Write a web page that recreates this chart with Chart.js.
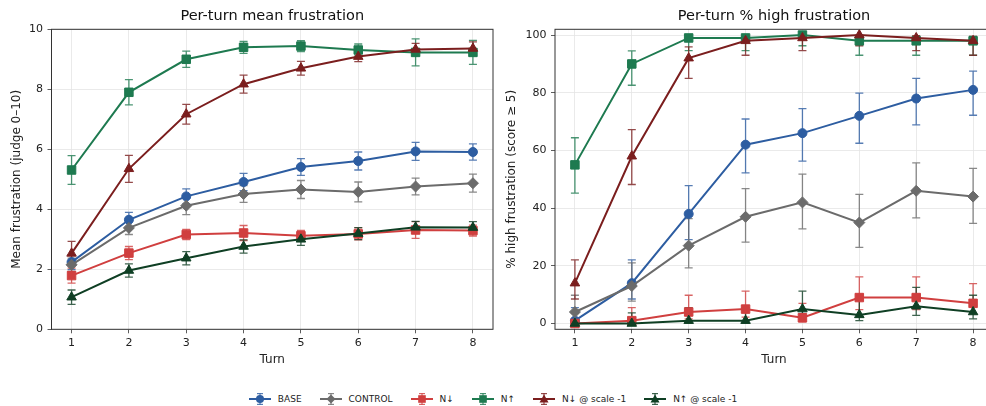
<!DOCTYPE html>
<html>
<head>
<meta charset="utf-8">
<script src="https://cdn.jsdelivr.net/npm/chart.js@4.4.1/dist/chart.umd.min.js"></script>
<style>
  html, body { margin: 0; padding: 0; background: #fff; }
  body { width: 986px; height: 406px; overflow: hidden; position: relative; font-family: "DejaVu Sans", sans-serif; }
  canvas { position: absolute; top: 0; }
  #left { left: 0; }
  #right { left: 500px; }
  #legend { position: absolute; left: 0; top: 393px; width: 986px; display: flex; justify-content: center; font-size: 9px; color: #222; line-height: 12px; }
  .item { display: flex; align-items: center; margin: 0 9px; }
  .item svg { margin-right: 7px; }
</style>
</head>
<body>
<canvas id="left" width="500" height="370"></canvas>
<canvas id="right" width="500" height="370"></canvas>
<div id="legend"></div>
<script>
const turns = [1, 2, 3, 4, 5, 6, 7, 8];
const meanTicks = [0, 2, 4, 6, 8, 10];
const pctTicks = [0, 20, 40, 60, 80, 100];

// mean frustration (0-10) and +/- error
const baseMean = [2.24, 3.65, 4.43, 4.91, 5.41, 5.61, 5.93, 5.91];
const baseErr = [0.25, 0.25, 0.25, 0.29, 0.28, 0.30, 0.30, 0.27];
const controlMean = [2.15, 3.38, 4.12, 4.51, 4.66, 4.58, 4.76, 4.87];
const controlErr = [0.22, 0.22, 0.30, 0.28, 0.30, 0.33, 0.28, 0.30];
const nDownMean = [1.79, 2.54, 3.16, 3.21, 3.12, 3.18, 3.31, 3.29];
const nDownErr = [0.25, 0.22, 0.17, 0.25, 0.18, 0.20, 0.28, 0.18];
const nUpMean = [5.31, 7.90, 9.00, 9.40, 9.44, 9.31, 9.23, 9.23];
const nUpErr = [0.48, 0.42, 0.27, 0.20, 0.18, 0.20, 0.45, 0.40];
const nDownNegMean = [2.53, 5.35, 7.17, 8.17, 8.70, 9.09, 9.33, 9.36];
const nDownNegErr = [0.40, 0.45, 0.33, 0.30, 0.23, 0.17, 0.20, 0.22];
const nUpNegMean = [1.07, 1.96, 2.37, 2.76, 3.00, 3.19, 3.40, 3.39];
const nUpNegErr = [0.24, 0.22, 0.22, 0.22, 0.20, 0.20, 0.20, 0.20];

// % high frustration with lower / upper interval
const basePct = [1, 14, 38, 62, 66, 72, 78, 81];
const basePctLo = [0.2, 8.5, 29.1, 52.2, 56.3, 62.5, 68.9, 72.2];
const basePctHi = [5.5, 22.1, 47.8, 70.9, 74.5, 79.9, 85.0, 87.5];
const controlPct = [4, 13, 27, 37, 42, 35, 46, 44];
const controlPctLo = [1.6, 7.8, 19.3, 28.2, 32.8, 26.4, 36.6, 34.7];
const controlPctHi = [9.8, 21.0, 36.4, 46.8, 51.8, 44.8, 55.7, 53.8];
const nDownPct = [0, 1, 4, 5, 2, 9, 9, 7];
const nDownPctLo = [0, 0.2, 1.6, 2.2, 0.6, 4.8, 4.8, 3.4];
const nDownPctHi = [3.7, 5.5, 9.8, 11.2, 7.0, 16.2, 16.2, 13.8];
const nUpPct = [55, 90, 99, 99, 100, 98, 98, 98];
const nUpPctLo = [45.2, 82.6, 94.6, 94.6, 96.3, 93.0, 93.0, 93.0];
const nUpPctHi = [64.4, 94.5, 99.8, 99.8, 100, 99.5, 99.5, 99.5];
const nDownNegPct = [14, 58, 92, 98, 99, 100, 99, 98];
const nDownNegPctLo = [8.5, 48.2, 85.0, 93.0, 94.6, 96.3, 94.6, 93.0];
const nDownNegPctHi = [22.1, 67.2, 95.9, 99.5, 99.8, 100, 99.8, 99.5];
const nUpNegPct = [0, 0, 1, 1, 5, 3, 6, 4];
const nUpNegPctLo = [0, 0, 0.2, 0.2, 2.2, 1.0, 2.8, 1.6];
const nUpNegPctHi = [3.7, 3.7, 5.5, 5.5, 11.2, 8.5, 12.5, 9.8];

const series = [
  { label: 'BASE', color: '#2d5da1', style: 'circle', radius: 4.5,
    mean: baseMean, err: baseErr, pct: basePct, lo: basePctLo, hi: basePctHi },
  { label: 'CONTROL', color: '#6b6b6b', style: 'rectRot', radius: 5.5,
    mean: controlMean, err: controlErr, pct: controlPct, lo: controlPctLo, hi: controlPctHi },
  { label: 'N\u2193', color: '#d03f3f', style: 'rect', radius: 6,
    mean: nDownMean, err: nDownErr, pct: nDownPct, lo: nDownPctLo, hi: nDownPctHi },
  { label: 'N\u2191', color: '#1e7a50', style: 'rect', radius: 6,
    mean: nUpMean, err: nUpErr, pct: nUpPct, lo: nUpPctLo, hi: nUpPctHi },
  { label: 'N\u2193 @ scale -1', color: '#7b1e1e', style: 'triangle', radius: 5.5,
    mean: nDownNegMean, err: nDownNegErr, pct: nDownNegPct, lo: nDownNegPctLo, hi: nDownNegPctHi },
  { label: 'N\u2191 @ scale -1', color: '#0f3f24', style: 'triangle', radius: 5.5,
    mean: nUpNegMean, err: nUpNegErr, pct: nUpNegPct, lo: nUpNegPctLo, hi: nUpNegPctHi }
];

const FONT = 'DejaVu Sans';
const GRID = '#e5e5e5';
const INK = '#222';

// error bars drawn through the chart scales
const errorBars = {
  id: 'errorBars',
  beforeDatasetsDraw(chart) {
    const ctx = chart.ctx;
    const xs = chart.scales.x, ys = chart.scales.y;
    chart.data.datasets.forEach((ds, i) => {
      ctx.save();
      ctx.strokeStyle = ds.borderColor;
      ctx.globalAlpha = 0.8;
      ctx.lineWidth = 1.3;
      ds.errLo.forEach((lo, j) => {
        const x = xs.getPixelForValue(turns[j]);
        const y1 = ys.getPixelForValue(lo);
        const y2 = ys.getPixelForValue(ds.errHi[j]);
        ctx.beginPath();
        ctx.moveTo(x, y1); ctx.lineTo(x, y2);
        ctx.moveTo(x - 4, y1); ctx.lineTo(x + 4, y1);
        ctx.moveTo(x - 4, y2); ctx.lineTo(x + 4, y2);
        ctx.stroke();
      });
      ctx.restore();
    });
  }
};

// full frame round the plot area
const frame = {
  id: 'frame',
  afterDraw(chart) {
    const a = chart.chartArea, ctx = chart.ctx;
    ctx.save();
    ctx.strokeStyle = '#333';
    ctx.lineWidth = 1;
    ctx.strokeRect(a.left, a.top, a.right - a.left, a.bottom - a.top);
    ctx.restore();
  }
};

function makeChart(id, title, yTitle, key, yMin, yMax, yTicks, yWidth, pad) {
  const datasets = series.map((s, i) => {
    const vals = s[key];
    return {
      label: s.label,
      data: turns.map((t, j) => ({ x: t, y: vals[j] })),
      errLo: key === 'mean' ? vals.map((v, j) => v - s.err[j]) : s.lo,
      errHi: key === 'mean' ? vals.map((v, j) => v + s.err[j]) : s.hi,
      borderColor: s.color,
      backgroundColor: s.color,
      pointBackgroundColor: s.color,
      pointBorderColor: s.color,
      pointBorderWidth: 1,
      pointStyle: s.style,
      pointRadius: s.radius,
      borderWidth: 2,
      tension: 0,
      order: series.length - i
    };
  });

  return new Chart(document.getElementById(id), {
    type: 'line',
    data: { datasets: datasets },
    options: {
      responsive: false,
      animation: false,
      events: [],
      layout: { padding: pad },
      plugins: {
        legend: { display: false },
        tooltip: { enabled: false },
        title: {
          display: true, text: title, color: '#111', fullSize: false,
          font: { family: FONT, size: 14.5, weight: 'normal' },
          padding: { top: 8, bottom: 3.9 }
        }
      },
      scales: {
        x: {
          type: 'linear', min: 0.65, max: 8.35,
          afterBuildTicks: sc => { sc.ticks = turns.map(v => ({ value: v })); },
          afterFit: sc => { sc.height = 40.7; },
          ticks: { color: INK, font: { family: FONT, size: 11 }, padding: 3.5 },
          grid: { color: GRID, lineWidth: 0.8, tickLength: 4, tickColor: '#333' },
          border: { display: false },
          title: { display: true, text: 'Turn', color: INK, font: { family: FONT, size: 12 }, padding: { top: 2, bottom: 2.8 } }
        },
        y: {
          type: 'linear', min: yMin, max: yMax,
          afterBuildTicks: sc => { sc.ticks = yTicks.map(v => ({ value: v })); },
          afterFit: sc => { sc.width = yWidth; },
          ticks: { color: INK, font: { family: FONT, size: 11 }, padding: 4.5 },
          grid: { color: GRID, lineWidth: 0.8, tickLength: 4, tickColor: '#333' },
          border: { display: false },
          title: { display: true, text: yTitle, color: INK, font: { family: FONT, size: 12 }, padding: { top: 4, bottom: 4 } }
        }
      }
    },
    plugins: [errorBars, frame]
  });
}

makeChart('left', 'Per-turn mean frustration', 'Mean frustration (judge 0\u201310)',
  'mean', 0, 10, meanTicks, 46, { left: 5.5, right: 7, top: 0, bottom: 0 });
makeChart('right', 'Per-turn % high frustration', '% high frustration (score \u2265 5)',
  'pct', -2, 102, pctTicks, 54.5, { left: 0.5, right: 3, top: 0, bottom: 0 });

// legend
function markerSvg(s) {
  const c = s.color;
  let m = '';
  if (s.style === 'circle') m = `<circle cx="11" cy="6" r="4" fill="${c}"/>`;
  else if (s.style === 'rect') m = `<rect x="7.2" y="2.2" width="7.6" height="7.6" fill="${c}"/>`;
  else if (s.style === 'rectRot') m = `<polygon points="11,1.5 15.5,6 11,10.5 6.5,6" fill="${c}"/>`;
  else m = `<polygon points="11,1.5 15.5,9.5 6.5,9.5" fill="${c}"/>`;
  return `<svg width="22" height="12" viewBox="0 0 22 12">
    <g stroke="${c}" stroke-opacity="0.8" stroke-width="1.2">
      <line x1="11" y1="0.6" x2="11" y2="11.4"/><line x1="8" y1="0.6" x2="14" y2="0.6"/><line x1="8" y1="11.4" x2="14" y2="11.4"/>
    </g>
    <line x1="0" y1="6" x2="22" y2="6" stroke="${c}" stroke-width="2"/>${m}</svg>`;
}

const legend = document.getElementById('legend');
series.forEach(s => {
  const item = document.createElement('div');
  item.className = 'item';
  item.innerHTML = markerSvg(s) + `<span>${s.label}</span>`;
  legend.appendChild(item);
});
</script>
</body>
</html>
